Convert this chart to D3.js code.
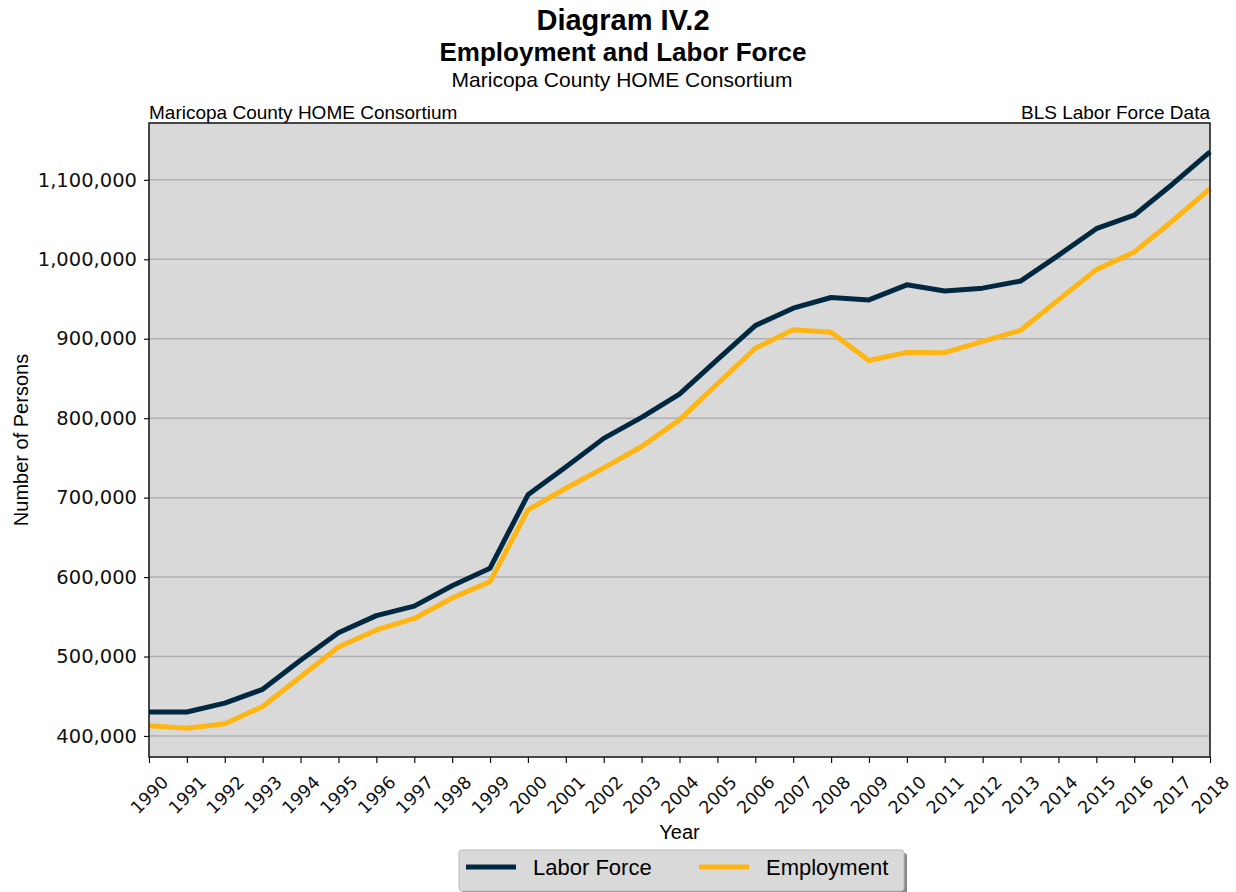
<!DOCTYPE html>
<html>
<head>
<meta charset="utf-8">
<script src="https://cdn.jsdelivr.net/npm/d3@7"></script>
<style>
  body { margin: 0; background: #fff; }
  svg { display: block; }
</style>
</head>
<body>
<svg id="chart" width="1236" height="892"></svg>
<script>
// data
var years = [1990,1991,1992,1993,1994,1995,1996,1997,1998,1999,2000,2001,2002,2003,2004,
             2005,2006,2007,2008,2009,2010,2011,2012,2013,2014,2015,2016,2017,2018];
var laborForce = [430200,430200,441300,458700,495300,529900,551500,563400,589100,611200,
                  703500,738600,774600,801000,830300,873600,916500,938500,951900,948900,
                  967900,960200,963700,972600,1005000,1038500,1055500,1094200,1135300];
var employment = [412900,409800,415400,437100,474600,511900,533500,547900,573600,594300,
                  684500,711800,737500,764400,797900,843300,888000,911200,908100,872600,
                  882800,882400,896800,910700,948900,987000,1009100,1047900,1089000];
var yTicks = [400000,500000,600000,700000,800000,900000,1000000,1100000];
var seriesNames = ["Labor Force", "Employment"];
var seriesColors = ["#002841", "#ffb612"];

var svg = d3.select("#chart");
var margin = {top: 123, right: 26, bottom: 135, left: 149};
var width = 1236 - margin.left - margin.right,
    height = 892 - margin.top - margin.bottom;

var sans = "'Liberation Sans', Arial, sans-serif";
var dejavu = "'DejaVu Sans', sans-serif";

// titles
svg.append("text").attr("x", 623).attr("y", 30).attr("text-anchor", "middle")
  .style("font-family", sans).style("font-weight", "bold").style("font-size", "29px")
  .text("Diagram IV.2");
svg.append("text").attr("x", 623).attr("y", 61).attr("text-anchor", "middle")
  .style("font-family", sans).style("font-weight", "bold").style("font-size", "26px")
  .text("Employment and Labor Force");
svg.append("text").attr("x", 622).attr("y", 87).attr("text-anchor", "middle")
  .style("font-family", sans).style("font-size", "21px")
  .text("Maricopa County HOME Consortium");
svg.append("text").attr("x", margin.left).attr("y", 119)
  .style("font-family", sans).style("font-size", "19px")
  .text("Maricopa County HOME Consortium");
svg.append("text").attr("x", margin.left + width).attr("y", 119).attr("text-anchor", "end")
  .style("font-family", sans).style("font-size", "19px")
  .text("BLS Labor Force Data");

var g = svg.append("g").attr("transform", "translate(" + margin.left + "," + margin.top + ")");

var allVals = laborForce.concat(employment);
var lo = d3.min(allVals), hi = d3.max(allVals), pad = (hi - lo) * 0.05;

var x = d3.scaleLinear().domain(d3.extent(years)).range([0, width]);
var y = d3.scaleLinear().domain([lo - pad, hi + pad]).range([height, 0]);

g.append("rect").attr("width", width).attr("height", height).attr("fill", "#d9d9d9");

// gridlines
g.append("g").selectAll("line").data(yTicks).enter().append("line")
  .attr("x1", 0).attr("x2", width)
  .attr("y1", function(d){ return y(d) }).attr("y2", function(d){ return y(d) })
  .attr("stroke", "#b0b0b0").attr("stroke-width", 1.5);

// lines
var line = d3.line()
  .x(function(d, i){ return x(years[i]) })
  .y(function(d){ return y(d) });

[laborForce, employment].forEach(function(s, i){
  g.append("path").datum(s)
    .attr("fill", "none")
    .attr("stroke", seriesColors[i])
    .attr("stroke-width", 5)
    .attr("stroke-linejoin", "round")
    .attr("d", line);
});

g.append("rect").attr("width", width).attr("height", height)
  .attr("fill", "none").attr("stroke", "#111").attr("stroke-width", 1.5);

// axes
var yAxis = g.append("g")
  .call(d3.axisLeft(y).tickValues(yTicks).tickSize(5).tickPadding(7).tickFormat(d3.format(",")));
yAxis.select(".domain").remove();
yAxis.selectAll("text").style("font-family", dejavu).style("font-size", "19.5px").attr("fill", "#111");
yAxis.selectAll("line").attr("stroke", "#111").attr("stroke-width", 1.2);

var xAxis = g.append("g").attr("transform", "translate(0," + height + ")")
  .call(d3.axisBottom(x).tickValues(years).tickSize(6).tickFormat(d3.format("d")));
xAxis.select(".domain").remove();
xAxis.selectAll("line").attr("stroke", "#111").attr("stroke-width", 1.2);
xAxis.selectAll("text")
  .style("font-family", dejavu).style("font-size", "17.5px").attr("fill", "#111")
  .attr("y", 0).attr("dy", null)
  .attr("text-anchor", "middle").attr("dominant-baseline", "central")
  .attr("transform", "translate(0,38) rotate(-45)");

// axis titles
svg.append("text")
  .attr("transform", "translate(28," + (margin.top + height / 2) + ") rotate(-90)")
  .attr("text-anchor", "middle")
  .style("font-family", sans).style("font-size", "20px")
  .text("Number of Persons");
svg.append("text").attr("x", margin.left + width / 2).attr("y", 839).attr("text-anchor", "middle")
  .style("font-family", sans).style("font-size", "20px")
  .text("Year");

// legend
var legend = svg.append("g").attr("transform", "translate(459,850)");
legend.append("rect").attr("x", 3).attr("y", 3).attr("width", 445).attr("height", 41)
  .attr("rx", 3).attr("fill", "#888");
legend.append("rect").attr("width", 445).attr("height", 41).attr("rx", 3)
  .attr("fill", "#d9d9d9").attr("stroke", "#bbb");
var legX = [7, 240];
seriesNames.forEach(function(name, i){
  legend.append("line").attr("x1", legX[i]).attr("x2", legX[i] + 50)
    .attr("y1", 17).attr("y2", 17)
    .attr("stroke", seriesColors[i]).attr("stroke-width", 5);
  legend.append("text").attr("x", legX[i] + 67).attr("y", 25)
    .style("font-family", sans).style("font-size", "22px")
    .text(name);
});
</script>
</body>
</html>
